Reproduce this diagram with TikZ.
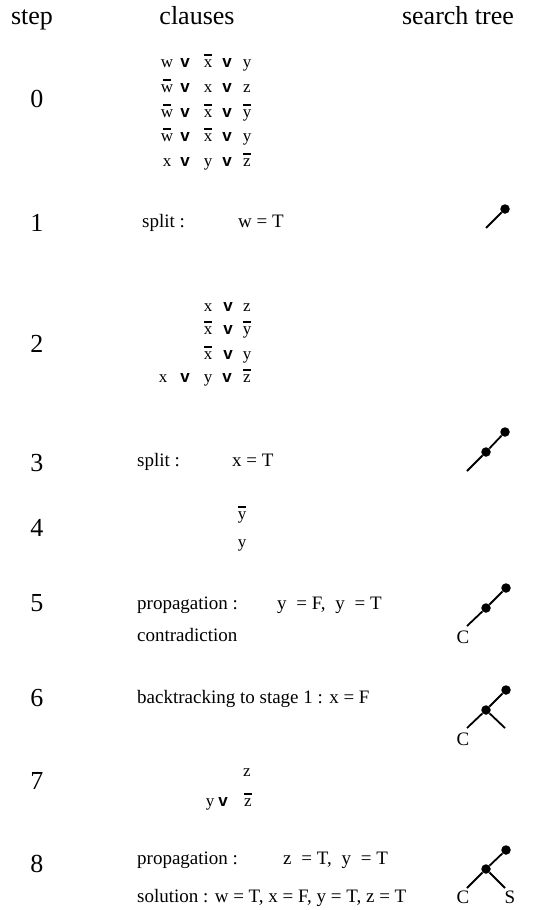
\documentclass[tikz,border=0pt]{standalone}
\usepackage{fontspec}
\setmainfont{Liberation Serif}
\setsansfont{Liberation Sans}
% negated literal: short thick bar above the letter
\newcommand{\negl}[1]{\setbox0=\hbox{#1}\rlap{\hbox to\wd0{\hss\raisebox{11.5pt}{\rule{8pt}{1.8pt}}\hss}}\box0}
\newcommand{\orsym}{{\fontsize{17}{17}\selectfont\sffamily\bfseries v}}
\newcommand{\gap}{\hspace{5pt}}
\tikzset{
  head/.style={font=\fontsize{26}{26}\selectfont, anchor=base, inner sep=0pt},
  stepno/.style={font=\fontsize{26}{26}\selectfont, anchor=base, inner sep=0pt},
  lit/.style={font=\fontsize{17}{17}\selectfont, anchor=base, inner sep=0pt},
  note/.style={font=\fontsize{19}{19}\selectfont, anchor=base west, inner sep=0pt},
  leaf/.style={font=\fontsize{19}{19}\selectfont, inner sep=0pt},
  dot/.style={circle, fill, inner sep=0pt, minimum size=9.5pt},
  branch/.style={line width=1.8pt},
}
\begin{document}
\begin{tikzpicture}[x=1pt, y=-1pt]
  \useasboundingbox (0,0) rectangle (551,910);

  % Headings
  \node[head] (hstep) at (32,24) {step};
  \node[head] (hcl) at (197,24) {clauses};
  \node[head] (htree) at (458,24) {search tree};

  % Step numbers
  \foreach \n/\yy in {0/107, 1/231, 2/352, 3/471, 4/536, 5/611, 6/706, 7/789, 8/872}
    \node[stepno] (n\n) at (37,\yy) {\n};

  % Step 0 clauses
  \foreach \yy/\ta/\tb/\tc [count=\i] in {67/w/\negl{x}/y, 92/\negl{w}/x/z,
      117/\negl{w}/\negl{x}/\negl{y}, 141/\negl{w}/\negl{x}/y, 166/x/y/\negl{z}} {
    \node[lit] (r\i-a) at (167,\yy) {\ta};
    \node[lit] (r\i-o) at (185,\yy) {\orsym};
    \node[lit] (r\i-b) at (208,\yy) {\tb};
    \node[lit] (r\i-p) at (227,\yy) {\orsym};
    \node[lit] (r\i-c) at (247,\yy) {\tc};
  }

  % Step 1
  \node[note] (s1a) at (142,227) {split :};
  \node[note] (s1b) at (238,227) {w = T};

  % Step 2 clauses
  \foreach \yy/\tb/\tc [count=\i] in {311/x/z, 334/\negl{x}/\negl{y}, 359/\negl{x}/y} {
    \node[lit] (q\i-b) at (208,\yy) {\tb};
    \node[lit] (q\i-p) at (228,\yy) {\orsym};
    \node[lit] (q\i-c) at (247,\yy) {\tc};
  }
  \node[lit] (q4-a) at (163,382) {x};
  \node[lit] (q4-o) at (185,382) {\orsym};
  \node[lit] (q4-b) at (208,382) {y};
  \node[lit] (q4-p) at (227,382) {\orsym};
  \node[lit] (q4-c) at (247,382) {\negl{z}};

  % Step 3
  \node[note] (s3a) at (137,466) {split :};
  \node[note] (s3b) at (232,466) {x = T};

  % Step 4
  \node[lit] (u1) at (242,519) {\negl{y}};
  \node[lit] (u2) at (242,547) {y};

  % Step 5
  \node[note] (s5a) at (137,609) {propagation :};
  \node[note] (s5b) at (277,609) {y\gap{} = F,\gap{} y\gap{} = T};
  \node[note] (s5c) at (137,641) {contradiction};

  % Step 6
  \node[note] (s6a) at (137,703) {backtracking to stage 1 : x = F};

  % Step 7 clauses
  \node[lit] (v1) at (247,776) {z};
  \node[lit] (v2-a) at (210,806) {y};
  \node[lit] (v2-o) at (223,806) {\orsym};
  \node[lit] (v2-c) at (248,806) {\negl{z}};

  % Step 8
  \node[note] (s8a) at (137,864) {propagation :};
  \node[note] (s8b) at (283,864) {z\gap{} = T,\gap{} y\gap{} = T};
  \node[note] (s8c) at (137,902) {solution : w = T, x = F, y = T, z = T};

  % Search trees
  \node[dot] (t1a) at (505,209) {};
  \coordinate (t1e) at (486,228);
  \draw[branch] (t1a) -- (t1e);

  \node[dot] (t3a) at (505,432) {};
  \node[dot] (t3b) at (486,452) {};
  \coordinate (t3e) at (467,471);
  \draw[branch] (t3a) -- (t3b) -- (t3e);

  \node[dot] (t5a) at (506,588) {};
  \node[dot] (t5b) at (486,608) {};
  \coordinate (t5e) at (467,626);
  \draw[branch] (t5a) -- (t5b) -- (t5e);
  \node[leaf] (c5) at (463,637) {C};

  \node[dot] (t6a) at (506,690) {};
  \node[dot] (t6b) at (486,710) {};
  \coordinate (t6e) at (467,728);
  \coordinate (t6f) at (505,728);
  \draw[branch] (t6a) -- (t6b) -- (t6e);
  \draw[branch] (t6b) -- (t6f);
  \node[leaf] (c6) at (463,739) {C};

  \node[dot] (t8a) at (506,850) {};
  \node[dot] (t8b) at (486,869) {};
  \coordinate (t8e) at (467,888);
  \coordinate (t8f) at (505,888);
  \draw[branch] (t8a) -- (t8b) -- (t8e);
  \draw[branch] (t8b) -- (t8f);
  \node[leaf] (c8) at (463,897) {C};
  \node[leaf] (s8) at (510,897) {S};
\end{tikzpicture}
\end{document}
